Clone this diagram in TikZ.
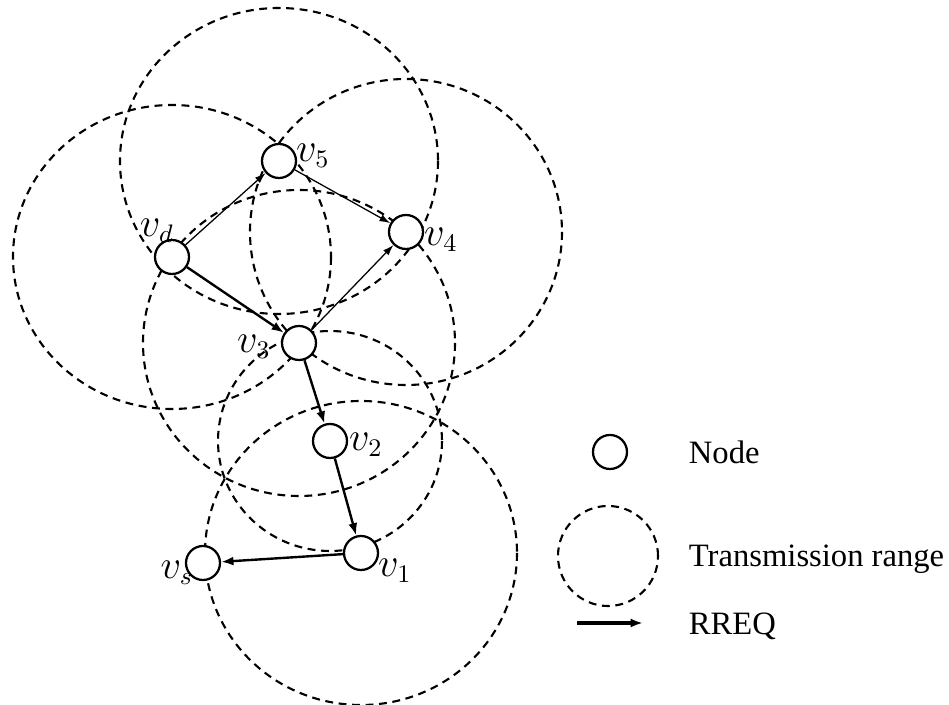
\documentclass[tikz,border=0pt]{standalone}
\usepackage{fontspec}
\setmainfont{Liberation Serif}
\usetikzlibrary{arrows.meta,backgrounds}

\begin{document}
\begin{tikzpicture}[x=0.0125cm, y=-0.0125cm, >=Latex,
    font=\fontsize{11.6}{14}\selectfont,
    station/.style={circle, draw, line width=.8pt, fill=white, inner sep=0pt, minimum size=.425cm},
    stationlbl/.style={font=\fontsize{13.5}{16}\selectfont},
    txrange/.style={dash pattern=on 2.8pt off 2pt, line width=.75pt},
    rreq/.style={->, line width=.85pt, >={Latex[length=4.4pt,width=3.2pt]}},
    thinreq/.style={->, line width=.45pt, >={Latex[length=3.8pt,width=2.6pt]}}]
  \useasboundingbox (0,0) rectangle (949,705);

  % stations
  \node[station] (vd) at (172,257) {};
  \node[station] (v5) at (279,161) {};
  \node[station] (v4) at (406,232) {};
  \node[station] (v3) at (299,343) {};
  \node[station] (v2) at (330,441) {};
  \node[station] (v1) at (361,553) {};
  \node[station] (vs) at (203,563) {};

  % station names
  \node[stationlbl] (tvd) at (157,231) {$v_d$};
  \node[stationlbl] (tv5) at (313,156) {$v_5$};
  \node[stationlbl] (tv4) at (441,240) {$v_4$};
  \node[stationlbl] (tv3) at (254,347) {$v_3$};
  \node[stationlbl] (tv2) at (366,445) {$v_2$};
  \node[stationlbl] (tv1) at (395,571) {$v_1$};
  \node[stationlbl] (tvs) at (177,573) {$v_s$};

  % transmission ranges, behind the stations
  \begin{scope}[on background layer]
    \foreach \n/\rx/\ry in {vd/159/152, v5/159/153, v4/156/153, v3/156/153, v2/112/110, v1/156/152}
      \draw[txrange] (\n.center) ellipse [x radius=\rx, y radius=\ry];
  \end{scope}

  % route request flooding
  \draw[thinreq] (vd) -- (v5);
  \draw[thinreq] (v5) -- (v4);
  \draw[thinreq] (v3) -- (v4);
  \draw[rreq] (vd) -- (v3);
  \draw[rreq] (v3) -- (v2);
  \draw[rreq] (v2) -- (v1);
  \draw[rreq] (v1) -- (vs);

  % legend
  \node[station] (keynode) at (610,452) {};
  \node[anchor=base west] (keynodetext) at (679,464) {Node};
  \node[circle, draw, txrange, inner sep=0pt, minimum size=1.25cm] (keyrange) at (608,556) {};
  \node[anchor=base west] (keyrangetext) at (679,567) {Transmission range};
  \coordinate (keya) at (577,623);
  \coordinate (keyb) at (643,623);
  \draw[rreq, line width=1.1pt] (keya) -- (keyb);
  \node[anchor=base west] (keyrreqtext) at (679,635) {RREQ};
\end{tikzpicture}
\end{document}
